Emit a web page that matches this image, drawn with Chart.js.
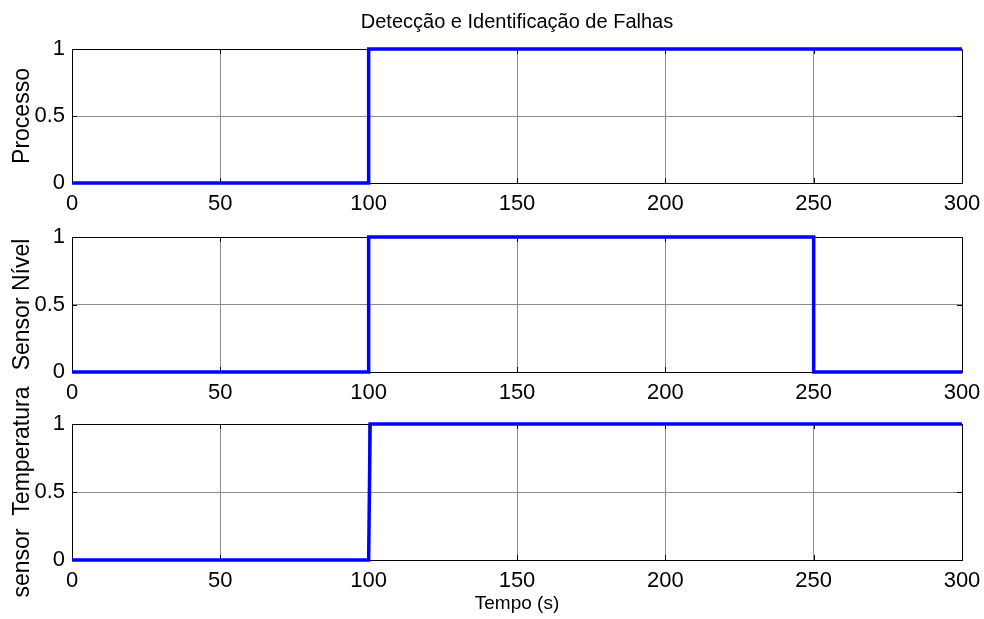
<!DOCTYPE html>
<html>
<head>
<meta charset="utf-8">
<script src="https://cdn.jsdelivr.net/npm/chart.js@4"></script>
<style>
  body { margin: 0; background: #fff; }
  #wrap { position: relative; width: 984px; height: 619px; }
  #wrap canvas { position: absolute; left: 0; top: 0; }
</style>
</head>
<body>
<div id="wrap">
  <canvas id="c1" width="984" height="619"></canvas>
  <canvas id="c2" width="984" height="619"></canvas>
  <canvas id="c3" width="984" height="619"></canvas>
</div>
<script>
// tick labels
const xTicks = [0, 50, 100, 150, 200, 250, 300];
const yTicks = [0, 0.5, 1];

// series (tempo em s, estado 0/1)
const processoT = [0, 100, 100, 300];
const processoV = [0, 0, 1, 1];
const nivelT = [0, 100, 100, 250, 250, 300];
const nivelV = [0, 0, 1, 1, 0, 0];
const tempT = [0, 100, 100.5, 300];
const tempV = [0, 0, 1, 1];

const FONT = "'Liberation Sans', Arial, Helvetica, sans-serif";

// box + inward ticks like matlab
const boxPlugin = {
    id: 'box',
    beforeDatasetsDraw(chart) {
        const {ctx, chartArea: a, scales} = chart;
        ctx.save();
        ctx.strokeStyle = '#000';
        ctx.lineWidth = 1;
        ctx.strokeRect(a.left + 0.5, a.top + 0.5, a.right - a.left, a.bottom - a.top);
        ctx.beginPath();
        xTicks.forEach(v => {
            const px = Math.round(scales.x.getPixelForValue(v)) + 0.5;
            ctx.moveTo(px, a.bottom); ctx.lineTo(px, a.bottom - 5);
            ctx.moveTo(px, a.top); ctx.lineTo(px, a.top + 5);
        });
        yTicks.forEach(v => {
            const py = Math.round(scales.y.getPixelForValue(v)) + 0.5;
            ctx.moveTo(a.left, py); ctx.lineTo(a.left + 5, py);
            ctx.moveTo(a.right, py); ctx.lineTo(a.right - 5, py);
        });
        ctx.stroke();
        ctx.restore();
    },
    // title centred over the axes, not the canvas
    afterDraw(chart, args, o) {
        if (!o.text) return;
        const {ctx, chartArea: a} = chart;
        ctx.save();
        ctx.fillStyle = '#000';
        ctx.font = '20px ' + FONT;
        ctx.textAlign = 'center';
        ctx.textBaseline = 'middle';
        ctx.fillText(o.text, (a.left + a.right) / 2, 22);
        ctx.restore();
    }
};

function makePlot(id, t, v, opts) {
    const pts = t.map((x, i) => ({x: x, y: v[i]}));
    return new Chart(document.getElementById(id), {
        type: 'line',
        data: {
            datasets: [{
                data: pts,
                borderColor: '#0000ff',
                borderWidth: 3.5,
                pointRadius: 0,
                tension: 0,
                fill: false,
                clip: 4
            }]
        },
        options: {
            responsive: false,
            animation: false,
            events: [],
            layout: {padding: {top: opts.top, right: 22, left: 0, bottom: 0}},
            plugins: {
                legend: {display: false},
                tooltip: {enabled: false},
                title: {display: false},
                box: {text: opts.title || ''}
            },
            scales: {
                x: {
                    type: 'linear',
                    min: 0, max: 300,
                    afterBuildTicks: s => { s.ticks = xTicks.map(val => ({value: val})); },
                    afterFit: s => {
                        s.height = 619 - opts.bottom;
                        s.paddingLeft = 0;
                        s.paddingRight = 0;
                    },
                    grid: {color: '#8c8c8c', lineWidth: 1, drawTicks: false},
                    border: {display: false},
                    ticks: {color: '#000', padding: 8, maxRotation: 0,
                            font: {family: FONT, size: 22},
                            callback: val => String(val)},
                    title: opts.xTitle ? {
                        display: true, text: opts.xTitle, color: '#000',
                        font: {family: FONT, size: 19}, padding: {top: 0, bottom: 4}
                    } : {display: false}
                },
                y: {
                    min: 0, max: 1,
                    afterBuildTicks: s => { s.ticks = yTicks.map(val => ({value: val})); },
                    afterFit: s => {
                        s.width = 72;
                        s.paddingTop = 0;
                        s.paddingBottom = 0;
                    },
                    grid: {color: '#8c8c8c', lineWidth: 1, drawTicks: false},
                    border: {display: false},
                    ticks: {color: '#000', padding: 7,
                            font: {family: FONT, size: 22},
                            callback: val => String(val)},
                    title: {
                        display: true, text: opts.yTitle, color: '#000',
                        font: {family: FONT, size: 23}, padding: {top: 9, bottom: 0}
                    }
                }
            }
        },
        plugins: [boxPlugin]
    });
}

makePlot('c1', processoT, processoV,
    {top: 49, bottom: 183, yTitle: 'Processo', title: 'Detecção e Identificação de Falhas'});
makePlot('c2', nivelT, nivelV, {top: 237, bottom: 372, yTitle: 'Sensor Nível'});
makePlot('c3', tempT, tempV, {top: 424, bottom: 560, yTitle: 'sensor  Temperatura', xTitle: 'Tempo (s)'});
</script>
</body>
</html>
